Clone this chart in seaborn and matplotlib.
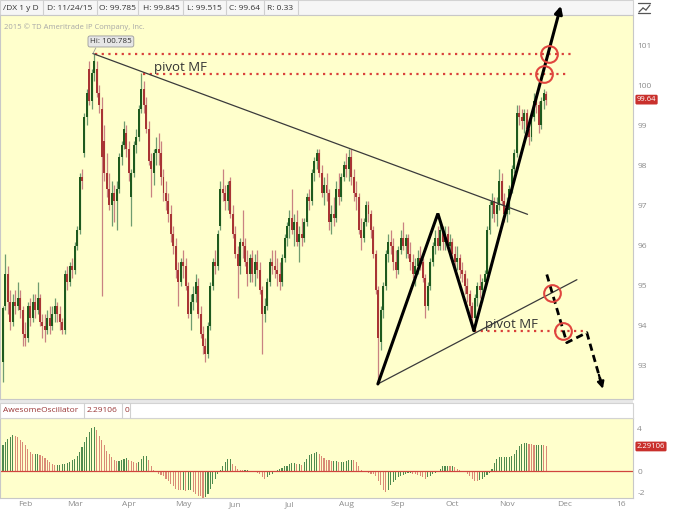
import numpy as np
import pandas as pd
import matplotlib
matplotlib.use("Agg")
import matplotlib.pyplot as plt
import matplotlib.transforms as mtransforms
from matplotlib.patches import Rectangle
from matplotlib.lines import Line2D
import seaborn as sns

# ---------------------------------------
# Data
# ---------------------------------------

dates = pd.bdate_range("2015-01-20", "2015-11-24")

opens = [93.10, 94.50, 95.30, 94.60, 94.10, 94.60, 94.50, 94.70, 94.40, 93.80,
         93.70, 94.50, 94.20, 94.60, 94.40, 94.70, 94.10, 94.00, 93.90, 94.20,
         94.00, 94.30, 94.50, 94.30, 94.10, 93.90, 95.30, 95.10, 95.50, 95.40,
         96.00, 96.40, 97.70, 98.30, 99.20, 100.40, 99.60, 100.30, 100.40, 99.80,
         99.40, 98.60, 97.80, 97.40, 97.00, 97.30, 97.10, 97.40, 98.20, 98.50,
         98.80, 98.40, 97.20, 97.80, 98.50, 98.70, 99.40, 99.90, 99.50, 98.90,
         98.10, 97.80, 98.30, 98.40, 98.30, 97.70, 97.30, 97.10, 96.80, 96.30,
         96.00, 95.40, 95.10, 95.60, 95.50, 95.00, 94.30, 94.60, 94.80, 95.00,
         94.30, 93.80, 93.50, 93.30, 94.00, 95.00, 95.60, 95.50, 96.50, 97.40,
         97.30, 97.10, 97.60, 96.80, 96.30, 95.80, 95.50, 96.10, 96.00, 95.60,
         95.30, 95.70, 95.30, 95.60, 95.40, 94.90, 94.30, 94.50, 95.10, 95.60,
         95.50, 95.40, 95.30, 95.10, 95.70, 96.20, 96.50, 96.70, 96.40, 96.60,
         96.10, 96.30, 96.20, 96.60, 97.20, 97.10, 97.80, 98.10, 98.30, 97.80,
         97.30, 97.50, 97.30, 96.60, 96.80, 96.70, 97.40, 97.20, 97.70, 98.00,
         97.90, 98.20, 97.70, 97.30, 97.20, 96.40, 96.20, 96.60, 97.00, 96.80,
         96.40, 95.80, 94.90, 93.60, 94.40, 95.00, 95.80, 96.10, 96.00, 95.60,
         95.40, 95.90, 96.20, 96.00, 96.20, 95.80, 95.60, 95.30, 95.50, 95.70,
         95.60, 95.20, 94.50, 95.00, 95.60, 96.00, 96.20, 96.00, 96.40, 96.10,
         96.30, 96.00, 96.10, 95.80, 95.60, 95.70, 95.40, 95.30, 95.00, 94.80,
         94.50, 94.20, 94.70, 95.00, 94.90, 95.10, 95.30, 96.40, 97.00, 97.10,
         96.80, 97.00, 97.60, 97.10, 96.80, 96.90, 97.40, 97.90, 98.30, 99.30,
         99.20, 99.10, 99.30, 98.90, 98.70, 99.20, 99.60, 99.50, 99.00, 99.60,
         99.785]

highs = [94.50, 95.80, 95.50, 94.90, 94.80, 94.90, 95.10, 94.90, 94.50, 94.10,
         94.60, 94.70, 94.80, 94.80, 95.10, 94.80, 94.30, 94.30, 94.40, 94.50,
         94.50, 94.70, 94.60, 94.50, 94.20, 95.40, 95.50, 95.60, 95.70, 96.10,
         96.50, 97.80, 97.90, 99.30, 99.90, 100.60, 100.40, 100.785, 100.60, 100.00,
         99.70, 99.00, 98.30, 97.80, 97.60, 97.50, 97.60, 98.30, 98.60, 99.10,
         99.00, 98.60, 97.90, 98.60, 98.90, 99.50, 100.30, 100.10, 99.70, 99.10,
         98.30, 98.40, 98.70, 98.80, 98.60, 97.90, 97.60, 97.30, 97.00, 96.50,
         96.20, 95.60, 95.70, 95.90, 95.70, 95.10, 94.80, 95.00, 95.30, 95.20,
         94.50, 94.00, 93.70, 94.10, 95.10, 95.70, 95.90, 96.40, 97.60, 97.90,
         97.50, 97.60, 97.70, 97.00, 96.50, 96.00, 96.20, 96.90, 96.20, 95.90,
         95.80, 95.90, 95.80, 95.90, 95.60, 95.00, 94.70, 95.20, 95.70, 95.90,
         95.90, 95.70, 95.60, 95.80, 96.30, 96.60, 96.90, 97.40, 96.80, 96.90,
         96.50, 96.70, 96.70, 97.30, 97.40, 97.90, 98.20, 98.40, 98.40, 98.00,
         97.70, 97.80, 97.40, 97.00, 97.20, 97.60, 97.80, 97.80, 98.10, 98.30,
         98.40, 98.40, 97.90, 97.60, 97.30, 96.70, 96.70, 97.10, 97.10, 96.90,
         96.50, 95.90, 95.00, 94.50, 95.10, 95.90, 96.30, 96.40, 96.20, 95.90,
         96.00, 96.40, 96.60, 96.30, 96.30, 96.10, 95.80, 95.70, 95.90, 96.00,
         95.70, 95.30, 95.10, 95.70, 96.10, 96.40, 96.50, 96.60, 96.50, 96.50,
         96.50, 96.30, 96.20, 96.00, 96.00, 95.80, 95.60, 95.40, 95.20, 94.90,
         94.60, 94.80, 95.10, 95.30, 95.20, 95.40, 96.50, 97.10, 97.30, 97.20,
         97.20, 97.90, 97.80, 97.30, 97.20, 97.50, 98.00, 98.40, 99.50, 99.50,
         99.40, 99.40, 99.40, 99.10, 99.30, 99.80, 99.80, 99.60, 99.70, 99.90,
         99.845]

lows = [92.60, 94.40, 94.30, 93.90, 94.00, 94.30, 94.40, 94.20, 93.50, 93.50,
        93.60, 94.00, 94.10, 94.20, 94.30, 94.00, 93.70, 93.60, 93.80, 93.80,
        93.90, 94.10, 94.10, 93.90, 93.80, 93.80, 94.90, 95.00, 95.20, 95.30,
        95.90, 96.30, 97.40, 98.20, 99.00, 99.50, 99.40, 100.10, 99.70, 99.30,
        94.75, 97.60, 97.20, 96.90, 96.50, 96.60, 96.40, 97.30, 98.00, 98.40,
        98.20, 97.60, 96.50, 97.70, 98.30, 98.60, 99.30, 99.30, 98.80, 98.00,
        97.20, 97.50, 98.00, 98.00, 97.50, 97.10, 96.90, 96.60, 96.10, 95.80,
        95.20, 94.50, 95.00, 95.20, 94.90, 94.20, 93.90, 94.40, 94.60, 94.20,
        93.70, 93.30, 93.10, 93.20, 93.90, 94.90, 95.30, 95.40, 96.40, 97.10,
        96.90, 96.90, 96.70, 96.20, 95.70, 94.70, 95.30, 95.70, 95.50, 95.00,
        95.10, 95.10, 95.00, 95.20, 94.80, 93.30, 94.10, 94.40, 95.00, 95.30,
        95.20, 95.00, 94.90, 95.00, 95.60, 96.00, 96.20, 96.30, 96.00, 96.00,
        95.60, 96.00, 96.10, 96.50, 96.90, 97.00, 97.60, 97.90, 97.70, 97.20,
        97.00, 97.10, 96.40, 96.30, 96.50, 96.60, 97.00, 97.10, 97.60, 97.70,
        97.60, 97.50, 97.10, 96.90, 96.30, 95.90, 96.10, 96.50, 96.60, 96.20,
        95.70, 94.80, 92.55, 93.40, 94.20, 94.90, 95.60, 95.80, 95.40, 95.20,
        95.30, 95.80, 95.90, 95.70, 95.70, 95.40, 95.20, 95.00, 95.30, 95.40,
        95.10, 94.20, 94.40, 94.90, 95.50, 95.80, 95.90, 95.90, 95.90, 95.90,
        95.90, 95.70, 95.60, 95.40, 95.40, 95.20, 95.10, 94.80, 94.60, 94.20,
        93.90, 94.10, 94.50, 94.70, 94.60, 94.90, 95.20, 96.30, 96.70, 96.60,
        96.50, 96.90, 97.00, 96.60, 96.60, 96.80, 97.30, 97.80, 98.20, 99.00,
        98.90, 98.80, 98.70, 98.50, 98.60, 99.10, 99.30, 98.80, 98.90, 99.40,
        99.515]

closes = [94.45, 95.30, 94.60, 94.10, 94.60, 94.50, 94.70, 94.40, 93.80, 93.70,
          94.50, 94.20, 94.60, 94.40, 94.70, 94.10, 94.00, 93.90, 94.20, 94.00,
          94.30, 94.50, 94.30, 94.10, 93.90, 95.30, 95.10, 95.50, 95.40, 96.00,
          96.40, 97.70, 97.60, 99.20, 99.80, 99.60, 100.30, 100.60, 99.80, 99.50,
          98.20, 97.80, 97.40, 97.00, 97.30, 97.10, 97.40, 98.20, 98.50, 98.90,
          98.40, 97.80, 97.80, 98.50, 98.70, 99.40, 99.90, 99.50, 98.90, 98.10,
          97.90, 98.30, 98.40, 98.30, 97.70, 97.30, 97.10, 96.80, 96.30, 96.00,
          95.40, 95.10, 95.60, 95.50, 95.00, 94.30, 94.60, 94.80, 95.10, 94.30,
          93.80, 93.50, 93.30, 94.00, 95.00, 95.60, 95.50, 96.30, 97.40, 97.30,
          97.10, 97.50, 96.80, 96.30, 95.80, 95.50, 96.10, 96.00, 95.60, 95.30,
          95.70, 95.30, 95.60, 95.40, 94.90, 94.30, 94.50, 95.10, 95.60, 95.50,
          95.40, 95.30, 95.10, 95.70, 96.20, 96.50, 96.70, 96.40, 96.60, 96.10,
          96.30, 96.20, 96.60, 97.20, 97.10, 97.80, 98.10, 98.30, 97.80, 97.30,
          97.50, 97.30, 96.60, 96.80, 96.70, 97.40, 97.20, 97.70, 98.00, 97.90,
          98.20, 97.70, 97.30, 97.20, 96.40, 96.20, 96.60, 97.00, 96.80, 96.40,
          95.80, 94.90, 93.70, 94.40, 95.00, 95.80, 96.10, 96.00, 95.60, 95.40,
          95.90, 96.20, 96.00, 96.20, 95.80, 95.60, 95.30, 95.50, 95.70, 95.60,
          95.20, 94.50, 95.00, 95.60, 96.00, 96.20, 96.00, 96.40, 96.10, 96.30,
          96.00, 96.10, 95.80, 95.60, 95.70, 95.40, 95.30, 95.00, 94.80, 94.50,
          94.20, 94.70, 95.00, 94.90, 95.10, 95.30, 96.40, 97.00, 97.10, 96.80,
          97.00, 97.60, 97.10, 96.80, 96.90, 97.40, 97.90, 98.30, 99.30, 99.20,
          99.10, 99.30, 98.90, 98.70, 99.20, 99.60, 99.50, 99.00, 99.60, 99.80,
          99.64]

ao_vals = [2.4, 2.7, 3.0, 3.2, 3.4, 3.3, 3.2, 2.9, 2.7, 2.4,
           2.1, 1.8, 1.6, 1.6, 1.6, 1.5, 1.4, 1.2, 1.0, 0.85,
           0.7, 0.6, 0.6, 0.6, 0.7, 0.7, 0.75, 0.85, 1.0, 1.15,
           1.4, 1.8, 2.2, 2.7, 3.2, 3.6, 4.0, 4.1, 3.8, 3.3,
           2.9, 2.4, 1.9, 1.55, 1.3, 1.0, 0.9, 0.9, 1.0, 1.15,
           1.2, 1.0, 0.9, 0.85, 0.75, 0.85, 1.15, 1.4, 1.4, 1.0,
           0.5, 0.1, -0.1, -0.25, -0.4, -0.5, -0.7, -0.9, -1.2, -1.4,
           -1.65, -1.75, -1.8, -1.8, -1.85, -1.8, -1.8, -2.0, -2.1, -2.3,
           -2.35, -2.5, -2.45, -2.1, -1.65, -1.2, -0.7, -0.25, 0.1, 0.45,
           0.85, 1.1, 1.1, 0.7, 0.45, 0.2, 0.1, 0.05, 0.05, 0.05,
           0.0, 0.0, -0.05, -0.2, -0.3, -0.6, -0.7, -0.6, -0.4, -0.25,
           -0.1, 0.05, 0.15, 0.3, 0.45, 0.5, 0.7, 0.75, 0.75, 0.7,
           0.7, 0.6, 0.85, 1.15, 1.5, 1.6, 1.7, 1.8, 1.6, 1.4,
           1.2, 1.05, 1.0, 0.9, 0.9, 0.9, 0.85, 0.85,
           0.85, 0.9, 1.0, 1.05, 1.0, 0.85, 0.5, 0.1, -0.05, -0.1,
           -0.2, -0.25, -0.3, -0.5, -0.9, -1.35, -1.75, -2.0, -1.8, -1.35,
           -1.0, -0.8, -0.6, -0.5, -0.4, -0.3, -0.2, -0.2, -0.25, -0.3,
           -0.4, -0.5, -0.6, -0.7, -0.6, -0.5, -0.3, -0.2, 0.0, 0.2,
           0.45, 0.5, 0.5, 0.45, 0.45, 0.35, 0.2, 0.05, 0.0, -0.1,
           -0.25, -0.5, -0.7, -0.9, -0.95, -0.8, -0.7, -0.55, -0.4, -0.2,
           0.2, 0.75, 1.15, 1.3, 1.3, 1.3, 1.3, 1.3, 1.4, 1.6,
           2.0, 2.3, 2.55, 2.6, 2.6, 2.55, 2.5, 2.45, 2.45, 2.45,
           2.45, 2.4, 2.29106]

# drawn analysis (bar index, price)
trend_i, trend_p = [36.4, 212.4], [100.79, 96.78]
support_i, support_p = [151.8, 232.4], [92.55, 95.15]
zig_i, zig_p = [151.8, 176.1, 190.7], [92.55, 96.80, 93.88]
up_i, up_p = [190.7, 225.9], [93.88, 101.98]
dash_i, dash_p = [220.2, 228.3, 236.4, 242.9], [95.28, 93.58, 93.83, 92.43]
hi_price, hi_line_i = 100.785, [37.2, 231.6]
pivot_hi, pivot_hi_i = 100.28, [56.7, 228.3]
pivot_lo, pivot_lo_i = 93.88, [190.7, 235.6]
circle_i = [221.1, 219.0, 222.3, 226.7]
circle_p = [100.785, 100.28, 94.83, 93.88]

month_labels = ["Feb", "Mar", "Apr", "May", "Jun", "Jul", "Aug", "Sep", "Oct", "Nov"]
future_labels, future_pos = ["Dec", "16"], [227.5, 250.2]

# ---------------------------------------
# Figure setup
# ---------------------------------------

sns.set_style("white")
plt.rcParams["font.family"] = ["Open Sans", "DejaVu Sans"]

W, H = 680, 513
fig = plt.figure(figsize=(W / 100, H / 100), dpi=100)
fx = lambda px: px / W
fy = lambda py: 1 - py / H

bg = "#FFFFCC"
grey_txt = "#8C8C8C"
ax = fig.add_axes([0, fy(399), fx(633), (399 - 15) / H])
ax2 = fig.add_axes([0, fy(498), fx(633), (498 - 418) / H])
ax.set_zorder(2)
for a in (ax, ax2):
    a.set_facecolor(bg)
    for s in a.spines.values():
        s.set_color("#C8C8C8")
        s.set_linewidth(0.8)

idx = np.arange(len(closes))
o, h, l, c = map(np.array, (opens, highs, lows, closes))
up = c >= o

# ---------------------------------------
# Candles
# ---------------------------------------

ax.vlines(idx, l, h, colors=np.where(up, "#6F9C6F", "#C98282"), lw=0.9, zorder=2)
ax.bar(idx, np.maximum(np.abs(c - o), 0.04), bottom=np.minimum(o, c), width=0.8,
       color=np.where(up, "#1E5A1E", "#A83434"), linewidth=0, zorder=3)

ax.set_xlim(-1.2, 255.1)
ax.set_ylim(92.175, 101.75)
ax.set_xticks([])
ax.yaxis.tick_right()
ax.set_yticks(range(93, 102))
ax.tick_params(axis="y", length=0, pad=3, labelsize=6, labelcolor=grey_txt)

# ---------------------------------------
# Drawn lines / annotations
# ---------------------------------------

red_dot = dict(color="#D9403A", lw=1.6, ls=(0, (1, 2)), zorder=4)
ax.plot(hi_line_i, [hi_price] * 2, **red_dot)
ax.plot(pivot_hi_i, [pivot_hi] * 2, **red_dot)
ax.plot(pivot_lo_i, [pivot_lo] * 2, **red_dot)

ax.plot(trend_i, trend_p, color="#3A3A3A", lw=0.9, zorder=5)
ax.plot(support_i, support_p, color="#3A3A3A", lw=0.9, zorder=5)
ax.plot(zig_i, zig_p, color="black", lw=2.2, zorder=6, solid_joinstyle="miter")
ax.annotate("", xy=(up_i[1], up_p[1]), xytext=(up_i[0], up_p[0]), annotation_clip=False,
            arrowprops=dict(arrowstyle="-|>", lw=2.2, color="black", mutation_scale=11,
                            shrinkA=0, shrinkB=0, clip_on=False), zorder=6)

ax.plot(dash_i[:-1] + [dash_i[-1] - 0.12 * (dash_i[-1] - dash_i[-2])],
        dash_p[:-1] + [dash_p[-1] - 0.12 * (dash_p[-1] - dash_p[-2])],
        color="black", lw=2.0, ls=(0, (2.6, 1.6)), zorder=6)
ax.annotate("", xy=(dash_i[-1], dash_p[-1]),
            xytext=(dash_i[-1] - 0.25 * (dash_i[-1] - dash_i[-2]),
                    dash_p[-1] - 0.25 * (dash_p[-1] - dash_p[-2])),
            arrowprops=dict(arrowstyle="-|>", lw=1.6, color="black", mutation_scale=10,
                            shrinkA=0, shrinkB=0), zorder=6)

ax.plot(circle_i, circle_p, ls="none", marker="o", ms=12, mfc="none",
        mec="#E0453E", mew=1.5, zorder=7)

ax.text(61.1, pivot_hi, "pivot MF", fontsize=9.5, color="#333333", va="bottom", ha="left", zorder=8)
ax.text(195.1, pivot_lo, "pivot MF", fontsize=9.5, color="#333333", va="bottom", ha="left", zorder=8)

ax.text(43.7, 101.09, "Hi: 100.785", fontsize=5.8, color="#333333", ha="center", va="center",
        bbox=dict(boxstyle="round,pad=0.25", fc="#E6E6E6", ec="#9A9A9A", lw=0.6), zorder=8)
ax.plot([36.4, 37.6], [hi_price, 100.93], color="#9A9A9A", lw=0.6, zorder=8)

rt = mtransforms.blended_transform_factory(ax.transAxes, ax.transData)
ax.text(1.006, closes[-1], f"{closes[-1]:.2f}", transform=rt, fontsize=5.5, color="white",
        ha="left", va="center", clip_on=False,
        bbox=dict(boxstyle="round,pad=0.18", fc="#C9302C", ec="none"))

# ---------------------------------------
# Awesome Oscillator panel
# ---------------------------------------

ao = np.array(ao_vals)
ao_dir = np.where(np.diff(ao, prepend=ao[0] - 1) >= 0, "up", "down")
ao_df = pd.DataFrame({"i": np.arange(len(ao)), "ao": ao, "dir": ao_dir})
sns.barplot(data=ao_df, x="i", y="ao", hue="dir", palette={"up": "#4E8A4E", "down": "#D98A76"},
            native_scale=True, dodge=False, legend=False, width=0.45, saturation=1,
            errorbar=None, linewidth=0, ax=ax2)
ax2.axhline(0, color="#D0453E", lw=0.9, zorder=1)
ax2.set_xlim(-1.2, 255.1)
ax2.set_ylim(-2.52, 4.95)
ax2.set_xlabel("")
ax2.set_ylabel("")
ax2.yaxis.tick_right()
ax2.set_yticks([4, 0, -2])
ax2.set_yticklabels(["4", "0", "-2"])
ax2.tick_params(axis="y", length=0, pad=3, labelsize=6, labelcolor=grey_txt)

month_pos = [int(np.argmax(dates.month == m)) for m in range(2, 12)]
ax2.set_xticks(month_pos + future_pos)
ax2.set_xticklabels(month_labels + future_labels)
ax2.tick_params(axis="x", length=0, pad=2, labelsize=6, labelcolor=grey_txt)

rt2 = mtransforms.blended_transform_factory(ax2.transAxes, ax2.transData)
ax2.text(1.006, ao_vals[-1], f"{ao_vals[-1]:.5f}", transform=rt2, fontsize=5.5, color="white",
         ha="left", va="center", clip_on=False,
         bbox=dict(boxstyle="round,pad=0.18", fc="#C9302C", ec="none"))

# ---------------------------------------
# Header bars and chrome
# ---------------------------------------

def frect(x0, y0, x1, y1, fc, ec="none"):
    fig.patches.append(Rectangle((fx(x0), fy(y1)), fx(x1 - x0), (y1 - y0) / H,
                                 transform=fig.transFigure, fc=fc, ec=ec, lw=0.8, zorder=0))

def fline(x0, y0, x1, y1, color="#D0D0D0", lw=0.8):
    fig.lines.append(Line2D([fx(x0), fx(x1)], [fy(y0), fy(y1)], transform=fig.transFigure,
                            color=color, lw=lw))

frect(0, 0, 633, 15, "#F6F6F6", "#D3D3D3")
header = ["/DX 1 y D", "D: 11/24/15", "O: 99.785", "H: 99.845", "L: 99.515", "C: 99.64", "R: 0.33"]
head_x = [3, 47, 99, 143, 187, 229, 267]
for sx in [43, 97, 138, 183, 226, 264, 298]:
    fline(sx, 0, sx, 15)
for tx, t in zip(head_x, header):
    fig.text(fx(tx), fy(8), t, fontsize=6, color="#333333", va="center", ha="left")

frect(0, 399, 633, 403, "#E8E8E8")
frect(0, 403, 633, 418, "#FFFFFF", "#D3D3D3")
for sx in [84, 122, 130]:
    fline(sx, 403, sx, 418)
for tx, t in zip([3, 87, 125], ["AwesomeOscillator", "2.29106", "0"]):
    fig.text(fx(tx), fy(410.5), t, fontsize=6, color="#9A3636", va="center", ha="left")

fig.text(fx(4), fy(27), "2015 \u00a9 TD Ameritrade IP Company, Inc.", fontsize=5.5,
         color="#A8A8A8", va="center", ha="left")

# small chart icon top right
fline(638, 3, 650, 3, color="#555555", lw=0.9)
fline(638, 13, 650, 13, color="#555555", lw=0.9)
fline(639, 12, 643, 8, color="#555555", lw=0.9)
fline(643, 8, 646, 10, color="#555555", lw=0.9)
fline(646, 10, 650, 5, color="#555555", lw=0.9)

fig.savefig("out.png", dpi=100, facecolor="white")
